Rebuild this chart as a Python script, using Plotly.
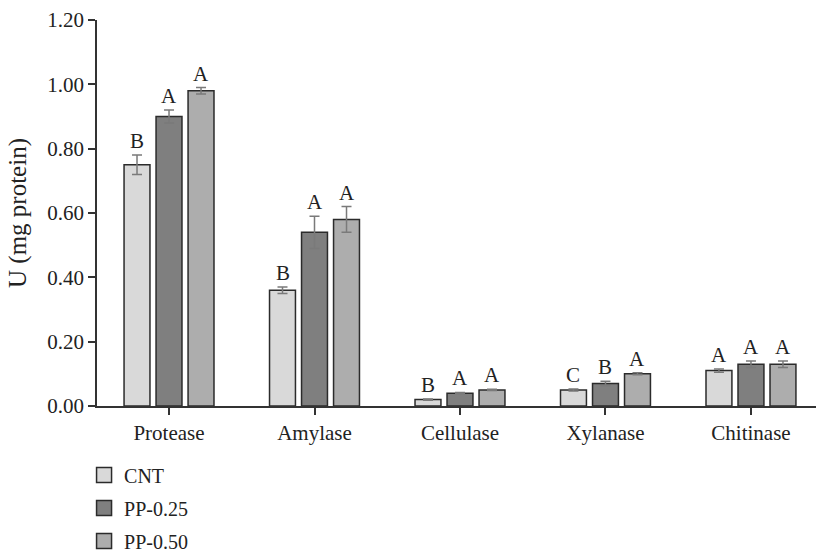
import plotly.graph_objects as go

categories = ["Protease", "Amylase", "Cellulase", "Xylanase", "Chitinase"]
series_names = ["CNT", "PP-0.25", "PP-0.50"]
cnt_vals = [0.75, 0.36, 0.02, 0.05, 0.11]
pp025_vals = [0.90, 0.54, 0.04, 0.07, 0.13]
pp050_vals = [0.98, 0.58, 0.05, 0.10, 0.13]
cnt_err = [0.03, 0.01, 0.002, 0.003, 0.005]
pp025_err = [0.02, 0.05, 0.002, 0.007, 0.01]
pp050_err = [0.01, 0.04, 0.002, 0.003, 0.01]
cnt_letters = ["B", "B", "B", "C", "A"]
pp025_letters = ["A", "A", "A", "B", "A"]
pp050_letters = ["A", "A", "A", "A", "A"]
y_ticks = [0.0, 0.2, 0.4, 0.6, 0.8, 1.0, 1.2]
y_ticktext = ["0.00", "0.20", "0.40", "0.60", "0.80", "1.00", "1.20"]

colors = ["#d9d9d9", "#7f7f7f", "#adadad"]
FONT = "Liberation Serif"
FS = 21
LEG_FS = 20
BARGAP = 0.34
BARGROUPGAP = 0.19

values = [cnt_vals, pp025_vals, pp050_vals]
errors = [cnt_err, pp025_err, pp050_err]
letters = [cnt_letters, pp025_letters, pp050_letters]
xs = list(range(len(categories)))

fig = go.Figure()
for k, name in enumerate(series_names):
    fig.add_trace(go.Bar(
        x=xs, y=values[k], name=name, showlegend=False,
        marker=dict(color=colors[k], line=dict(color="#2b2b2b", width=1.5)),
        error_y=dict(type="data", array=errors[k], visible=True,
                     color="#7a7a7a", thickness=1.5, width=5),
    ))
# legend entries
for k, name in enumerate(series_names):
    fig.add_trace(go.Scatter(
        x=[None], y=[None], mode="markers", name=name, legendgroup=name,
        marker=dict(symbol="square", size=15, color=colors[k],
                    line=dict(color="#2b2b2b", width=1.5)),
    ))

slot = (1 - BARGAP) / len(series_names)
annotations = []
for k in range(len(series_names)):
    off = (k - (len(series_names) - 1) / 2) * slot
    for i in xs:
        annotations.append(dict(
            x=i + off, y=values[k][i] + errors[k][i], text=letters[k][i],
            showarrow=False, yanchor="bottom", yshift=0,
            font=dict(family=FONT, size=FS, color="#222"),
        ))

fig.update_layout(
    width=816, height=554,
    margin=dict(l=97, r=0, t=20, b=148, autoexpand=False),
    paper_bgcolor="white", plot_bgcolor="white",
    barmode="group", bargap=BARGAP, bargroupgap=BARGROUPGAP,
    font=dict(family=FONT, size=FS, color="#222"),
    annotations=annotations,
    showlegend=True,
    legend=dict(x=-0.018, xanchor="left", y=-0.128, yanchor="top",
                orientation="v", tracegroupgap=4, itemwidth=30,
                font=dict(family=FONT, size=LEG_FS, color="#222"),
                bgcolor="rgba(0,0,0,0)"),
    xaxis=dict(range=[-0.495, 4.447], tickvals=xs, ticktext=categories,
               showline=True, linecolor="#333", linewidth=1.5,
               ticks="outside", ticklen=7, tickwidth=1.5, tickcolor="#333",
               showgrid=False, zeroline=False, fixedrange=True),
    yaxis=dict(range=[0, 1.2], tickvals=y_ticks, ticktext=y_ticktext,
               showline=True, linecolor="#333", linewidth=1.5,
               ticks="outside", ticklen=7, tickwidth=1.5, tickcolor="#333",
               showgrid=False, zeroline=False,
               title=dict(text="U (mg protein)", standoff=14)),
)

fig.write_html("out.html")
